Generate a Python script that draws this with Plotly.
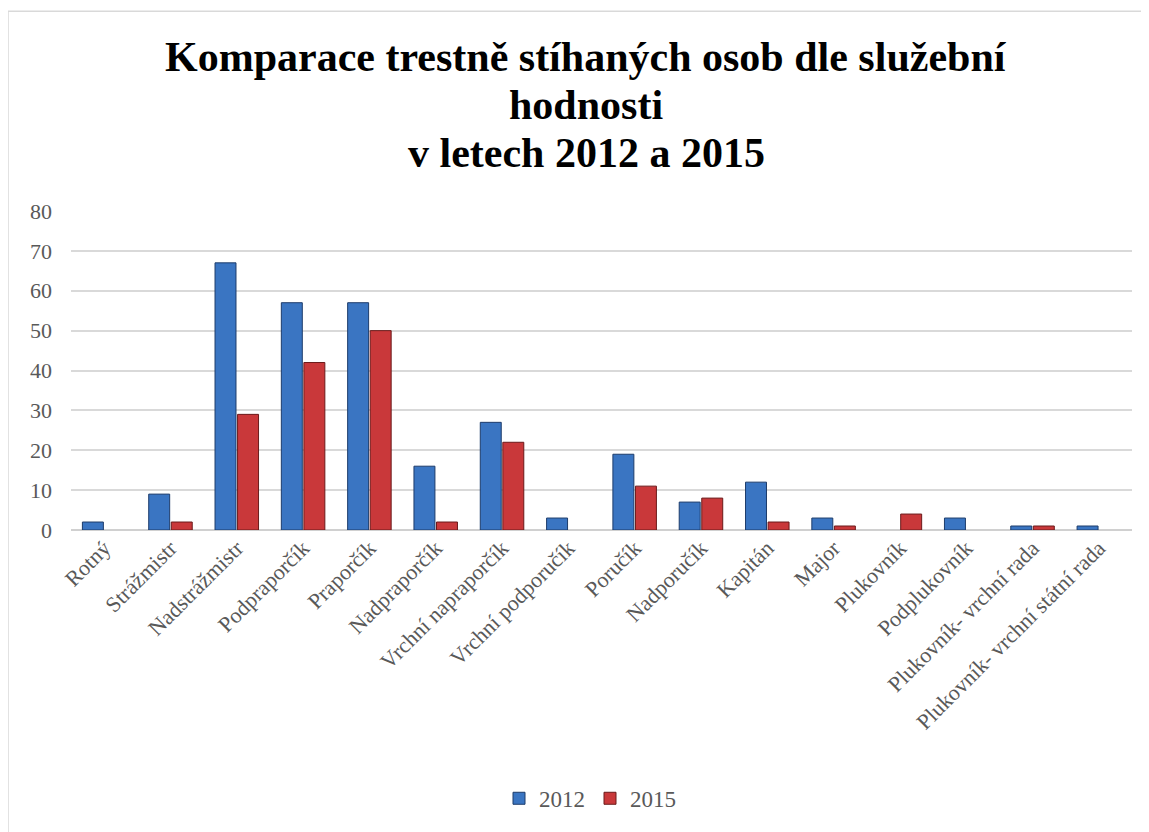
import plotly.graph_objects as go

categories = ["Rotný", "Strážmistr", "Nadstrážmistr", "Podpraporčík", "Praporčík",
              "Nadpraporčík", "Vrchní napraporčík", "Vrchní podporučík", "Poručík",
              "Nadporučík", "Kapitán", "Major", "Plukovník", "Podplukovník",
              "Plukovník- vrchní rada", "Plukovník- vrchní státní rada"]
values_2012 = [2, 9, 67, 57, 57, 16, 27, 3, 19, 7, 12, 3, None, 3, 1, 1]
values_2015 = [None, 2, 29, 42, 50, 2, 22, None, 11, 8, 2, 1, 4, None, 1, None]
y_ticks = [0, 10, 20, 30, 40, 50, 60, 70, 80]
title_lines = ["Komparace trestně stíhaných osob dle služební", "hodnosti", "v letech 2012 a 2015"]

FONT = "Liberation Serif"
W, H = 1141, 824
L, R, T, B = 63, 17, 203, 300
PW, PH = W - L - R, H - T - B


def px_x(x):
    return (x - L) / PW


def px_y(y):
    return (H - B - y) / PH


fig = go.Figure()
fig.add_trace(go.Bar(x=categories, y=values_2012, name="2012",
                     marker=dict(color="#3a75c2", line=dict(color="#1d3c6b", width=1))))
fig.add_trace(go.Bar(x=categories, y=values_2015, name="2015",
                     marker=dict(color="#c9383a", line=dict(color="#6b1a1a", width=1))))

fig.update_layout(
    width=W, height=H,
    paper_bgcolor="white", plot_bgcolor="white",
    margin=dict(l=L, r=R, t=T, b=B),
    barmode="group", bargap=0.32, bargroupgap=0.07,
    font=dict(family=FONT, size=22, color="#595959"),
    legend=dict(orientation="h", x=px_x(582), xanchor="center", y=px_y(794), yanchor="middle",
                font=dict(family=FONT, size=23, color="#595959"),
                traceorder="normal", itemwidth=30),
    showlegend=True,
)
title_y = [48, 96, 145]
for line, yy in zip(title_lines, title_y):
    fig.add_annotation(text=line, xref="paper", yref="paper",
                       x=px_x(578), y=px_y(yy), xanchor="center", yanchor="middle",
                       showarrow=False,
                       font=dict(family=FONT, size=42, color="black", weight=700))

fig.update_xaxes(tickangle=-45, showgrid=False, showline=False, ticks="",
                 tickfont=dict(family=FONT, size=22, color="#595959"))
fig.update_yaxes(range=[0, 80], tickvals=y_ticks, showgrid=True, gridcolor="#d9d9d9",
                 gridwidth=1.5, zeroline=True, zerolinecolor="#d0d0d0", zerolinewidth=1.5,
                 showline=False, ticks="", ticklabelstandoff=18,
                 tickfont=dict(family=FONT, size=22, color="#595959"))

fig.add_shape(type="rect", xref="paper", yref="paper",
              x0=px_x(0), x1=px_x(1160),
              y0=px_y(850), y1=px_y(2),
              line=dict(color="#d9d9d9", width=1.5), fillcolor="rgba(0,0,0,0)", layer="below")

fig.write_html("out.html")
